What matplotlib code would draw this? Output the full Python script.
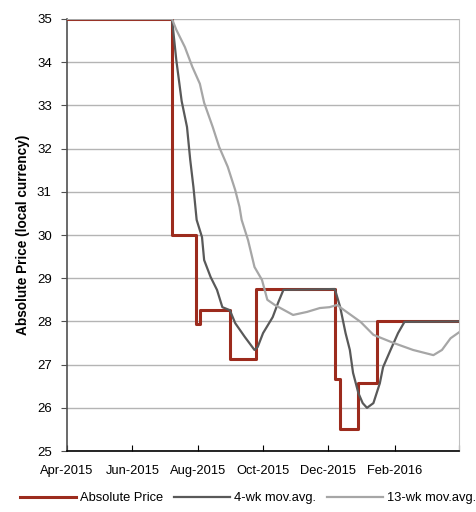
import matplotlib
matplotlib.use("Agg")
import matplotlib.pyplot as plt
import pandas as pd

plt.rcParams['font.family'] = ['Liberation Sans', 'DejaVu Sans']

# Absolute price (step changes)
price_dates = ['2015-04-01', '2015-07-08', '2015-07-30', '2015-08-03', '2015-08-31',
               '2015-09-24', '2015-12-07', '2015-12-12', '2015-12-29', '2016-01-15',
               '2016-04-01']
price = [35.0, 30.0, 27.95, 28.27, 27.13, 28.75, 26.67, 25.51, 26.57, 28.0, 28.0]

# 4-week moving average
ma4_dates = ['2015-04-01', '2015-07-08', '2015-07-12', '2015-07-17', '2015-07-22',
             '2015-07-25', '2015-07-28', '2015-07-31', '2015-08-05', '2015-08-07',
             '2015-08-13', '2015-08-19', '2015-08-24', '2015-08-31', '2015-09-05',
             '2015-09-14', '2015-09-23', '2015-09-26', '2015-10-01', '2015-10-10',
             '2015-10-15', '2015-10-20', '2015-12-07', '2015-12-12', '2015-12-17',
             '2015-12-21', '2015-12-24', '2015-12-29', '2016-01-02', '2016-01-06',
             '2016-01-12', '2016-01-18', '2016-01-21', '2016-01-28', '2016-02-04',
             '2016-02-10', '2016-04-01']
ma4 = [35.0, 35.0, 34.05, 33.1, 32.5, 31.74, 31.11, 30.35, 29.95, 29.42,
       29.03, 28.73, 28.33, 28.26, 27.96, 27.64, 27.34, 27.41, 27.73, 28.10,
       28.43, 28.73, 28.75, 28.33, 27.73, 27.34, 26.81, 26.34, 26.11, 26.0,
       26.11, 26.57, 26.94, 27.34, 27.73, 27.99, 28.0]

# 13-week moving average
ma13_dates = ['2015-04-01', '2015-07-08', '2015-07-12', '2015-07-20', '2015-07-27',
              '2015-08-03', '2015-08-07', '2015-08-15', '2015-08-21', '2015-08-29',
              '2015-09-05', '2015-09-09', '2015-09-11', '2015-09-17', '2015-09-23',
              '2015-09-30', '2015-10-05', '2015-10-12', '2015-10-29', '2015-11-11',
              '2015-11-23', '2015-12-02', '2015-12-09', '2015-12-18', '2015-12-31',
              '2016-01-12', '2016-01-31', '2016-02-18', '2016-03-08', '2016-03-16',
              '2016-03-24', '2016-04-01']
ma13 = [35.0, 35.0, 34.75, 34.35, 33.89, 33.5, 33.06, 32.5, 32.04, 31.58,
        31.04, 30.65, 30.35, 29.88, 29.26, 28.96, 28.5, 28.38, 28.15, 28.22,
        28.31, 28.33, 28.38, 28.22, 27.99, 27.69, 27.5, 27.34, 27.22, 27.34,
        27.61, 27.75]

tick_dates = ['2015-04-01', '2015-06-01', '2015-08-01', '2015-10-01',
              '2015-12-01', '2016-02-01', '2016-04-01']
tick_labels = ['Apr-2015', 'Jun-2015', 'Aug-2015', 'Oct-2015', 'Dec-2015', 'Feb-2016', '']

fig = plt.figure(figsize=(4.77, 5.12), dpi=100)
ax = fig.add_axes([0.1405, 0.119, 0.822, 0.844])

ax.plot(pd.to_datetime(price_dates), price, drawstyle='steps-post',
        color='#9c2b1d', lw=2.2, label='Absolute Price', zorder=3)
ax.plot(pd.to_datetime(ma4_dates), ma4, color='#595959', lw=1.6,
        label='4-wk mov.avg.', zorder=4)
ax.plot(pd.to_datetime(ma13_dates), ma13, color='#a6a6a6', lw=1.6,
        label='13-wk mov.avg.', zorder=5)

ax.set_xlim(pd.Timestamp('2015-04-01'), pd.Timestamp('2016-04-01'))
ax.set_ylim(25, 35)
ax.set_yticks(range(25, 36))
ax.set_xticks(pd.to_datetime(tick_dates))
ax.set_xticklabels(tick_labels)

ax.grid(axis='y', color='#b4b4b4', lw=1.0)
ax.set_axisbelow(True)
ax.spines['top'].set_visible(False)
ax.spines['right'].set_color('#c0c0c0')
ax.spines['left'].set_color('#505050')
ax.spines['left'].set_linewidth(1.2)
ax.spines['bottom'].set_color('black')
ax.spines['bottom'].set_linewidth(1.2)

ax.tick_params(axis='y', direction='out', length=4, labelsize=9.5, color='#505050', pad=7)
ax.tick_params(axis='x', direction='in', length=4, labelsize=9.3, pad=10)

ax.set_ylabel('Absolute Price (local currency)', fontsize=9.8, fontweight='bold', labelpad=5)

fig.legend(loc='lower center', bbox_to_anchor=(0.52, -0.008), ncol=3, frameon=False,
           fontsize=9.3, handlelength=4.3, columnspacing=0.9, handletextpad=0.3)

fig.savefig('out.png', dpi=100)
